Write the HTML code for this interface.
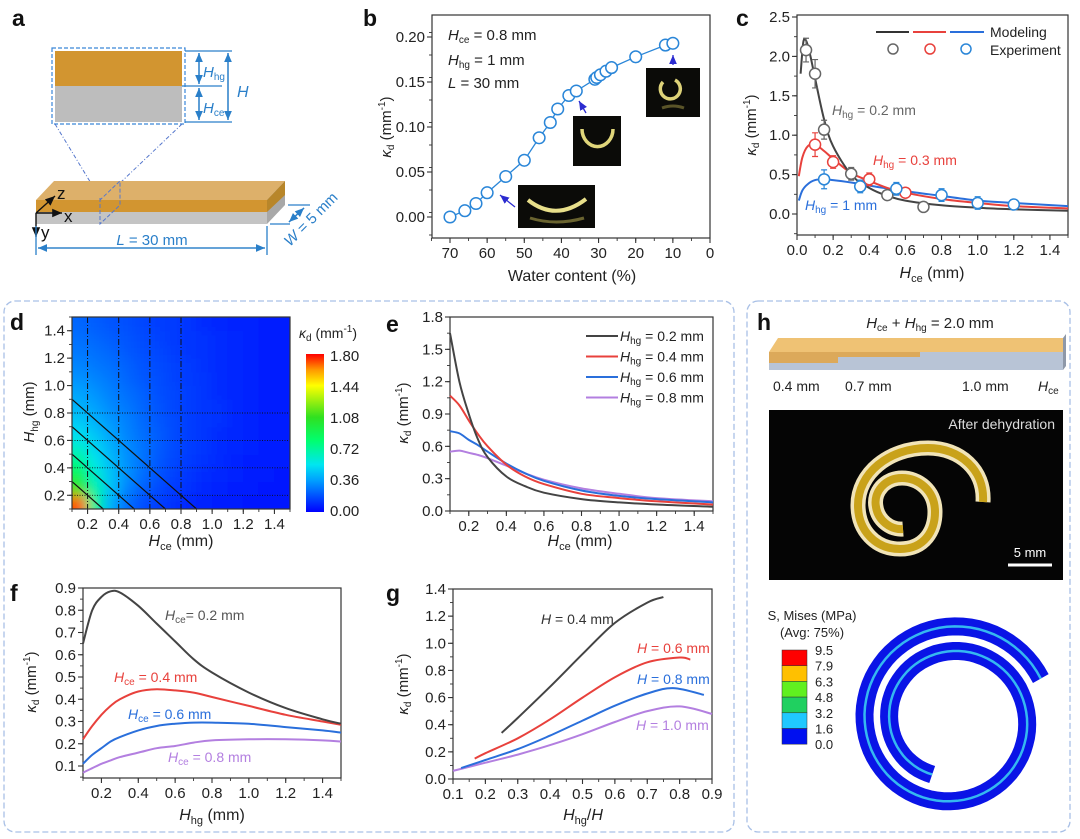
<!DOCTYPE html>
<html><head><meta charset="utf-8">
<style>
html,body{margin:0;padding:0;background:#fff;}
svg{display:block;font-family:"Liberation Sans",Arial,sans-serif;}
.tk{font-size:15px;fill:#222;}
.pl{font-size:23px;font-weight:bold;fill:#111;}
</style></head>
<body>
<svg id="fig" width="1080" height="839" viewBox="0 0 1080 839" xmlns="http://www.w3.org/2000/svg">
<defs>
 <filter id="hmblur" filterUnits="userSpaceOnUse" x="30" y="280" width="300" height="270"><feGaussianBlur stdDeviation="6"/></filter>
 <clipPath id="hmclip"><rect x="72" y="317" width="218" height="192"/></clipPath>
 <linearGradient id="cbgrad" x1="0" y1="1" x2="0" y2="0">
  <stop offset="0" stop-color="#0000ff"/><stop offset="0.2" stop-color="#00a0ff"/><stop offset="0.3" stop-color="#00e6f0"/>
  <stop offset="0.45" stop-color="#00ff70"/><stop offset="0.6" stop-color="#30e020"/><stop offset="0.8" stop-color="#ffff00"/>
  <stop offset="0.9" stop-color="#ff9900"/><stop offset="1" stop-color="#ff0000"/>
 </linearGradient>
 <marker id="ab" markerWidth="8" markerHeight="8" refX="7" refY="4" orient="auto"><path d="M0,1 L7,4 L0,7 z" fill="#2a7fc9"/></marker>
 <marker id="ak" markerWidth="8" markerHeight="8" refX="7" refY="4" orient="auto"><path d="M0,1 L7,4 L0,7 z" fill="#111"/></marker>
 <marker id="an" markerWidth="8" markerHeight="8" refX="7" refY="4" orient="auto"><path d="M0,1 L7,4 L0,7 z" fill="#2b2bd0"/></marker>
</defs>

<rect x="4" y="301" width="730" height="531" rx="11" fill="none" stroke="#a9c0e6" stroke-width="1.3" stroke-dasharray="6 3"/>
<rect x="747" y="301" width="323" height="531" rx="11" fill="none" stroke="#a9c0e6" stroke-width="1.3" stroke-dasharray="6 3"/>

<text class="pl" x="12" y="26">a</text>
<text class="pl" x="363" y="26">b</text>
<text class="pl" x="736" y="26">c</text>
<text class="pl" x="10" y="330">d</text>
<text class="pl" x="386" y="332">e</text>
<text class="pl" x="10" y="601">f</text>
<text class="pl" x="386" y="601">g</text>
<text class="pl" x="757" y="330">h</text>

<g>
 <rect x="52" y="48" width="133" height="76" fill="none" stroke="#3a86d8" stroke-dasharray="4 2" stroke-width="1.2"/>
 <rect x="55" y="51" width="127" height="35" fill="#d29530"/>
 <rect x="55" y="86" width="127" height="36" fill="#bdbdbd"/>
 <g stroke="#2a7fc9" stroke-width="1.3" fill="none">
  <line x1="185" y1="51" x2="232" y2="51"/><line x1="182" y1="86" x2="222" y2="86"/><line x1="185" y1="122" x2="232" y2="122"/>
  <line x1="199" y1="53" x2="199" y2="84" marker-end="url(#ab)"/><line x1="199" y1="84" x2="199" y2="53" marker-end="url(#ab)"/>
  <line x1="199" y1="88" x2="199" y2="120" marker-end="url(#ab)"/><line x1="199" y1="120" x2="199" y2="88" marker-end="url(#ab)"/>
  <line x1="228" y1="53" x2="228" y2="120" marker-end="url(#ab)"/><line x1="228" y1="120" x2="228" y2="53" marker-end="url(#ab)"/>
 </g>
 <text x="203" y="77" fill="#2a7fc9" font-size="15"><tspan font-style="italic">H</tspan><tspan font-size="10" dy="3">hg</tspan></text>
 <text x="203" y="113" fill="#2a7fc9" font-size="15"><tspan font-style="italic">H</tspan><tspan font-size="10" dy="3">ce</tspan></text>
 <text x="237" y="97" fill="#2a7fc9" font-size="16" font-style="italic">H</text>
 <g stroke="#5577cc" stroke-width="1" stroke-dasharray="4 2 1 2" fill="none">
  <line x1="55" y1="124" x2="100" y2="198"/><line x1="182" y1="124" x2="120" y2="183"/>
 </g>
 <polygon points="36,200 54,181 285,181 267,200" fill="#ddb06a"/>
 <polygon points="267,200 285,181 285,205 267,224" fill="#a8a8a8"/>
 <polygon points="267,200 285,181 285,195 267,212" fill="#b8862a"/>
 <rect x="36" y="200" width="231" height="12" fill="#d29530"/>
 <rect x="36" y="212" width="231" height="12" fill="#c4c4c4"/>
 <g stroke="#5577cc" stroke-width="1" stroke-dasharray="4 2" fill="none"><polyline points="100,198 100,224 120,205 120,181 100,200"/></g>
 <g stroke="#111" stroke-width="1.4" fill="none">
  <line x1="36" y1="213" x2="55" y2="196" marker-end="url(#ak)"/><line x1="36" y1="213" x2="62" y2="213" marker-end="url(#ak)"/><line x1="36" y1="213" x2="36" y2="237" marker-end="url(#ak)"/>
 </g>
 <text x="57" y="199" font-size="17" fill="#111">z</text><text x="64" y="222" font-size="17" fill="#111">x</text><text x="41" y="238" font-size="17" fill="#111">y</text>
 <g stroke="#2a7fc9" stroke-width="1.3" fill="none">
  <line x1="36" y1="226" x2="36" y2="255"/><line x1="267" y1="226" x2="267" y2="255"/>
  <line x1="38" y1="248" x2="265" y2="248" marker-end="url(#ab)"/><line x1="265" y1="248" x2="38" y2="248" marker-end="url(#ab)"/>
  <line x1="270" y1="224" x2="290" y2="224"/><line x1="288" y1="205" x2="310" y2="205"/>
  <line x1="289" y1="222" x2="304" y2="208" marker-end="url(#ab)"/><line x1="304" y1="208" x2="289" y2="222" marker-end="url(#ab)"/>
 </g>
 <text x="152" y="245" text-anchor="middle" font-size="15" fill="#2a7fc9"><tspan font-style="italic">L</tspan> = 30 mm</text>
 <text x="0" y="0" transform="translate(290,247) rotate(-45)" font-size="15" fill="#2a7fc9"><tspan font-style="italic">W</tspan> = 5 mm</text>
</g>

<g>
 <text x="0" y="0" transform="translate(391,127) rotate(-90)" text-anchor="middle" font-size="15" fill="#222"><tspan font-style="italic">κ</tspan><tspan font-size="10" dy="3">d</tspan><tspan dy="-3"> (mm</tspan><tspan font-size="10" dy="-6">-1</tspan><tspan dy="6">)</tspan></text>
 <text x="572" y="281" text-anchor="middle" font-size="16" fill="#222">Water content (%)</text>
 <text x="448" y="40" font-size="15" fill="#222"><tspan font-style="italic">H</tspan><tspan font-size="10" dy="3">ce</tspan><tspan dy="-3"> = 0.8 mm</tspan></text>
 <text x="448" y="65" font-size="15" fill="#222"><tspan font-style="italic">H</tspan><tspan font-size="10" dy="3">hg</tspan><tspan dy="-3"> = 1 mm</tspan></text>
 <text x="448" y="88" font-size="15" fill="#222"><tspan font-style="italic">L</tspan> = 30 mm</text>
 <rect x="518" y="185" width="77" height="43" fill="#0b0b08"/>
 <path d="M528,200 Q556,222 586,199" stroke="#e8df8a" stroke-width="4" fill="none"/>
 <path d="M530,218 Q556,226 584,218" stroke="#6a6430" stroke-width="3" fill="none"/>
 <rect x="573" y="116" width="48" height="50" fill="#0b0b08"/>
 <path d="M582,129 A15,17 0 0 0 613,129" stroke="#e0d67a" stroke-width="3.5" fill="none"/>
 <rect x="646" y="68" width="54" height="49" fill="#0b0b08"/>
 <path d="M663,82 A10,10 0 1 0 675,80" stroke="#ddd278" stroke-width="3.5" fill="none"/>
 <path d="M662,108 Q673,104 684,108" stroke="#5a5428" stroke-width="3" fill="none"/>
 <line x1="515" y1="207" x2="500" y2="195" stroke="#2b2bd0" stroke-width="1.3" marker-end="url(#an)"/>
 <line x1="586" y1="113" x2="579" y2="101" stroke="#2b2bd0" stroke-width="1.3" marker-end="url(#an)"/>
 <line x1="673" y1="65" x2="673" y2="55" stroke="#2b2bd0" stroke-width="1.3" marker-end="url(#an)"/>
</g>

<g>
 <text x="0" y="0" transform="translate(756,125) rotate(-90)" text-anchor="middle" font-size="15" fill="#222"><tspan font-style="italic">κ</tspan><tspan font-size="10" dy="3">d</tspan><tspan dy="-3"> (mm</tspan><tspan font-size="10" dy="-6">-1</tspan><tspan dy="6">)</tspan></text>
 <text x="932" y="278" text-anchor="middle" font-size="16" fill="#222"><tspan font-style="italic">H</tspan><tspan font-size="11" dy="4">ce</tspan><tspan dy="-4"> (mm)</tspan></text>
 <line x1="876" y1="32" x2="909" y2="32" stroke="#333" stroke-width="2"/>
 <line x1="913" y1="32" x2="946" y2="32" stroke="#e8413c" stroke-width="2"/>
 <line x1="950" y1="32" x2="984" y2="32" stroke="#2a6fdb" stroke-width="2"/>
 <circle cx="893" cy="49" r="5" fill="#fff" stroke="#666" stroke-width="1.5"/>
 <circle cx="930" cy="49" r="5" fill="#fff" stroke="#e8413c" stroke-width="1.5"/>
 <circle cx="966" cy="49" r="5" fill="#fff" stroke="#2a86d8" stroke-width="1.5"/>
 <text x="990" y="37" font-size="14" fill="#222">Modeling</text>
 <text x="990" y="55" font-size="14" fill="#222">Experiment</text>
 <text x="832" y="115" font-size="14" fill="#666"><tspan font-style="italic">H</tspan><tspan font-size="10" dy="3">hg</tspan><tspan dy="-3"> = 0.2 mm</tspan></text>
 <text x="873" y="165" font-size="14" fill="#e8413c"><tspan font-style="italic">H</tspan><tspan font-size="10" dy="3">hg</tspan><tspan dy="-3"> = 0.3 mm</tspan></text>
 <text x="805" y="210" font-size="14" fill="#2a6fdb"><tspan font-style="italic">H</tspan><tspan font-size="10" dy="3">hg</tspan><tspan dy="-3"> = 1 mm</tspan></text>
</g>

<g>
 <g id="hmcells" clip-path="url(#hmclip)"><g id="hmblurg" filter="url(#hmblur)"></g></g>
 <text x="0" y="0" transform="translate(34,412) rotate(-90)" text-anchor="middle" font-size="15" fill="#222"><tspan font-style="italic">H</tspan><tspan font-size="10" dy="4">hg</tspan><tspan dy="-4"> (mm)</tspan></text>
 <text x="181" y="546" text-anchor="middle" font-size="16" fill="#222"><tspan font-style="italic">H</tspan><tspan font-size="11" dy="4">ce</tspan><tspan dy="-4"> (mm)</tspan></text>
 <rect x="306" y="354" width="18" height="158" fill="url(#cbgrad)"/>
 <text x="299" y="338" font-size="14" fill="#222"><tspan font-style="italic">κ</tspan><tspan font-size="10" dy="3">d</tspan><tspan dy="-3"> (mm</tspan><tspan font-size="10" dy="-6">-1</tspan><tspan dy="6">)</tspan></text>
 <g id="cbticks"></g>
</g>

<g>
 <text x="0" y="0" transform="translate(408,413) rotate(-90)" text-anchor="middle" font-size="15" fill="#222"><tspan font-style="italic">κ</tspan><tspan font-size="10" dy="3">d</tspan><tspan dy="-3"> (mm</tspan><tspan font-size="10" dy="-6">-1</tspan><tspan dy="6">)</tspan></text>
 <text x="580" y="546" text-anchor="middle" font-size="16" fill="#222"><tspan font-style="italic">H</tspan><tspan font-size="11" dy="4">ce</tspan><tspan dy="-4"> (mm)</tspan></text>
</g>

<g>
 <text x="0" y="0" transform="translate(36,682) rotate(-90)" text-anchor="middle" font-size="15" fill="#222"><tspan font-style="italic">κ</tspan><tspan font-size="10" dy="3">d</tspan><tspan dy="-3"> (mm</tspan><tspan font-size="10" dy="-6">-1</tspan><tspan dy="6">)</tspan></text>
 <text x="212" y="820" text-anchor="middle" font-size="16" fill="#222"><tspan font-style="italic">H</tspan><tspan font-size="11" dy="4">hg</tspan><tspan dy="-4"> (mm)</tspan></text>
 <text x="165" y="620" font-size="14" fill="#555"><tspan font-style="italic">H</tspan><tspan font-size="10" dy="3">ce</tspan><tspan dy="-3">= 0.2 mm</tspan></text>
 <text x="114" y="682" font-size="14" fill="#e8413c"><tspan font-style="italic">H</tspan><tspan font-size="10" dy="3">ce</tspan><tspan dy="-3"> = 0.4 mm</tspan></text>
 <text x="128" y="719" font-size="14" fill="#2a6fdb"><tspan font-style="italic">H</tspan><tspan font-size="10" dy="3">ce</tspan><tspan dy="-3"> = 0.6 mm</tspan></text>
 <text x="168" y="762" font-size="14" fill="#b37fe0"><tspan font-style="italic">H</tspan><tspan font-size="10" dy="3">ce</tspan><tspan dy="-3"> = 0.8 mm</tspan></text>
</g>

<g>
 <text x="0" y="0" transform="translate(408,684) rotate(-90)" text-anchor="middle" font-size="15" fill="#222"><tspan font-style="italic">κ</tspan><tspan font-size="10" dy="3">d</tspan><tspan dy="-3"> (mm</tspan><tspan font-size="10" dy="-6">-1</tspan><tspan dy="6">)</tspan></text>
 <text x="583" y="820" text-anchor="middle" font-size="16" fill="#222"><tspan font-style="italic">H</tspan><tspan font-size="11" dy="4">hg</tspan><tspan dy="-4">/</tspan><tspan font-style="italic">H</tspan></text>
 <text x="541" y="624" font-size="14" fill="#333"><tspan font-style="italic">H</tspan> = 0.4 mm</text>
 <text x="637" y="653" font-size="14" fill="#e8413c"><tspan font-style="italic">H</tspan> = 0.6 mm</text>
 <text x="637" y="684" font-size="14" fill="#2a6fdb"><tspan font-style="italic">H</tspan> = 0.8 mm</text>
 <text x="636" y="730" font-size="14" fill="#b37fe0"><tspan font-style="italic">H</tspan> = 1.0 mm</text>
</g>

<g>
 <text x="930" y="328" text-anchor="middle" font-size="15" fill="#222"><tspan font-style="italic">H</tspan><tspan font-size="10" dy="3">ce</tspan><tspan dy="-3"> + </tspan><tspan font-style="italic">H</tspan><tspan font-size="10" dy="3">hg</tspan><tspan dy="-3"> = 2.0 mm</tspan></text>
 <polygon points="769,352 778,338 1063,338 1063,352" fill="#efc274"/>
 <polygon points="769,352 1063,352 1063,370 769,370" fill="#b8c4d6"/>
 <polygon points="769,352 838,352 838,363 769,363" fill="#dca95a"/>
 <polygon points="838,352 920,352 920,357 838,357" fill="#dca95a"/>
 <polygon points="1063,338 1066,334 1066,366 1063,370" fill="#8e98a8"/>
 <text x="773" y="391" font-size="14" fill="#222">0.4 mm</text>
 <text x="845" y="391" font-size="14" fill="#222">0.7 mm</text>
 <text x="962" y="391" font-size="14" fill="#222">1.0 mm</text>
 <text x="1038" y="391" font-size="14" fill="#222"><tspan font-style="italic">H</tspan><tspan font-size="10" dy="3">ce</tspan></text>
 <rect x="769" y="410" width="294" height="170" fill="#050505"/>
 <text x="1055" y="429" text-anchor="end" font-size="14" fill="#ddd">After dehydration</text>
 <path d="M983,502 C985,470 960,448 928,448 C888,448 858,474 858,505 C858,530 875,549 900,549 C925,549 935,530 935,512 C935,490 918,478 902,478 C885,478 873,492 876,507 C878,520 890,530 903,529" fill="none" stroke="#f1e4b8" stroke-width="15" stroke-linecap="butt"/>
 <path d="M983,502 C985,470 960,448 928,448 C888,448 858,474 858,505 C858,530 875,549 900,549 C925,549 935,530 935,512 C935,490 918,478 902,478 C885,478 873,492 876,507 C878,520 890,530 903,529" fill="none" stroke="#c9a21a" stroke-width="8"/>
 <line x1="1008" y1="565" x2="1052" y2="565" stroke="#fff" stroke-width="3"/>
 <text x="1030" y="557" text-anchor="middle" font-size="13" fill="#fff">5 mm</text>
 <text x="812" y="620" text-anchor="middle" font-size="13" fill="#222">S, Mises (MPa)</text>
 <text x="812" y="637" text-anchor="middle" font-size="13" fill="#222">(Avg: 75%)</text>
 <g id="legh"></g>
 <path id="spiral" fill="none" stroke="#0a14e6" stroke-width="18"/>
 <path id="spiral2" fill="none" stroke="#35b8f0" stroke-width="2.5"/>
</g>

<g id="charts"></g>
</svg>

<script>
// ===== DATA =====
const bWater = [70,66,63,60,55,50,46,43,41,38,36,31,30.5,29.5,28,26.5,20,12,10];
const bKappa = [0,0.007,0.015,0.027,0.045,0.063,0.088,0.105,0.12,0.135,0.14,0.153,0.155,0.158,0.162,0.166,0.178,0.191,0.193];
const bXTicks = [70,60,50,40,30,20,10,0];
const bYTicks = [0,0.05,0.1,0.15,0.2];
const bYLabels = ["0.00","0.05","0.10","0.15","0.20"];
const cModelX1 = [0.02,0.035,0.05,0.07,0.1,0.15,0.2,0.3,0.4,0.5,0.6,0.8,1.0,1.2,1.5];
const cModelY1 = [1.78,2.18,2.2,2.05,1.72,1.2,0.86,0.5,0.33,0.23,0.17,0.11,0.08,0.06,0.04];
const cModelX2 = [0.01,0.03,0.06,0.1,0.15,0.2,0.3,0.4,0.5,0.6,0.8,1.0,1.2,1.5];
const cModelY2 = [0.48,0.72,0.86,0.88,0.8,0.7,0.52,0.42,0.33,0.27,0.19,0.14,0.1,0.07];
const cModelX3 = [0.01,0.03,0.06,0.1,0.15,0.2,0.3,0.4,0.6,0.8,1.0,1.2,1.5];
const cModelY3 = [0.17,0.3,0.38,0.43,0.44,0.43,0.4,0.36,0.29,0.23,0.17,0.14,0.1];
const cExpX1 = [0.05,0.1,0.15,0.3,0.5,0.7];
const cExpY1 = [2.08,1.78,1.07,0.51,0.24,0.09];
const cErr1 = [0.15,0.18,0.12,0.08,0.03,0.05];
const cExpX2 = [0.1,0.2,0.4,0.6];
const cExpY2 = [0.88,0.66,0.44,0.27];
const cErr2 = [0.15,0.08,0.08,0.05];
const cExpX3 = [0.15,0.35,0.55,0.8,1.0,1.2];
const cExpY3 = [0.44,0.35,0.32,0.24,0.14,0.12];
const cErr3 = [0.12,0.08,0.08,0.08,0.08,0.04];
const cXTicks = [0,0.2,0.4,0.6,0.8,1.0,1.2,1.4];
const cYTicks = [0,0.5,1.0,1.5,2.0,2.5];
const dHce = [0.15,0.25,0.35,0.45,0.55,0.65,0.75,0.85,0.95,1.05,1.15,1.25,1.35,1.45];
const dHhg = [0.15,0.25,0.35,0.45,0.55,0.65,0.75,0.85,0.95,1.05,1.15,1.25,1.35,1.45];
const dKappa = [
 [1.7,0.75,0.4,0.25,0.18,0.14,0.11,0.09,0.08,0.07,0.06,0.05,0.05,0.04],
 [1.1,0.7,0.45,0.3,0.22,0.17,0.13,0.11,0.09,0.08,0.07,0.06,0.05,0.05],
 [0.9,0.62,0.45,0.33,0.25,0.19,0.15,0.12,0.1,0.09,0.08,0.07,0.06,0.05],
 [0.75,0.55,0.43,0.33,0.26,0.2,0.16,0.13,0.11,0.1,0.08,0.07,0.06,0.06],
 [0.62,0.5,0.4,0.32,0.26,0.21,0.17,0.14,0.12,0.1,0.09,0.08,0.07,0.06],
 [0.52,0.45,0.37,0.3,0.25,0.21,0.17,0.14,0.12,0.1,0.09,0.08,0.07,0.06],
 [0.46,0.4,0.34,0.29,0.24,0.2,0.17,0.14,0.12,0.11,0.09,0.08,0.07,0.06],
 [0.41,0.36,0.31,0.27,0.23,0.19,0.16,0.14,0.12,0.11,0.09,0.08,0.07,0.06],
 [0.37,0.33,0.29,0.25,0.22,0.18,0.16,0.14,0.12,0.1,0.09,0.08,0.07,0.06],
 [0.33,0.3,0.27,0.23,0.2,0.18,0.15,0.13,0.12,0.1,0.09,0.08,0.07,0.06],
 [0.3,0.27,0.25,0.22,0.19,0.17,0.15,0.13,0.11,0.1,0.09,0.08,0.07,0.06],
 [0.27,0.25,0.23,0.2,0.18,0.16,0.14,0.12,0.11,0.1,0.09,0.08,0.07,0.06],
 [0.25,0.23,0.21,0.19,0.17,0.15,0.13,0.12,0.11,0.1,0.09,0.08,0.07,0.06],
 [0.23,0.21,0.19,0.18,0.16,0.14,0.13,0.12,0.1,0.09,0.08,0.08,0.07,0.06]
];
const dGridVals = [0.2,0.4,0.6,0.8];
const dDiagSums = [0.4,0.6,0.8,1.0];
const dTicks = [0.2,0.4,0.6,0.8,1.0,1.2,1.4];
const dCbTicks = [0,0.36,0.72,1.08,1.44,1.8];
const dCbLabels = ["0.00","0.36","0.72","1.08","1.44","1.80"];
const eX = [0.1,0.15,0.2,0.25,0.3,0.4,0.5,0.6,0.8,1.0,1.2,1.5];
const eY02 = [1.65,1.2,0.9,0.66,0.5,0.32,0.23,0.17,0.11,0.08,0.06,0.04];
const eY04 = [1.07,0.98,0.84,0.71,0.6,0.43,0.32,0.25,0.16,0.12,0.09,0.06];
const eY06 = [0.74,0.72,0.66,0.61,0.55,0.44,0.35,0.28,0.19,0.14,0.11,0.08];
const eY08 = [0.55,0.56,0.54,0.52,0.49,0.42,0.35,0.29,0.21,0.16,0.12,0.09];
const eLegend = ["0.2","0.4","0.6","0.8"];
const eYTicks = [0,0.3,0.6,0.9,1.2,1.5,1.8];
const fX = [0.1,0.15,0.2,0.25,0.3,0.4,0.5,0.6,0.7,0.8,1.0,1.2,1.4,1.5];
const fY02 = [0.65,0.8,0.86,0.885,0.88,0.82,0.74,0.66,0.58,0.52,0.43,0.36,0.31,0.29];
const fY04 = [0.22,0.28,0.33,0.37,0.4,0.435,0.445,0.44,0.43,0.41,0.37,0.33,0.3,0.285];
const fY06 = [0.11,0.15,0.18,0.21,0.23,0.26,0.28,0.29,0.295,0.295,0.29,0.275,0.26,0.25];
const fY08 = [0.07,0.09,0.11,0.125,0.14,0.16,0.18,0.19,0.205,0.215,0.22,0.22,0.215,0.21];
const fYTicks = [0.1,0.2,0.3,0.4,0.5,0.6,0.7,0.8,0.9];
const gX04 = [0.25,0.3,0.4,0.5,0.6,0.7,0.75];
const gY04 = [0.34,0.45,0.68,0.92,1.15,1.3,1.34];
const gX06 = [0.167,0.2,0.3,0.4,0.5,0.6,0.7,0.8,0.833];
const gY06 = [0.15,0.19,0.3,0.44,0.6,0.75,0.86,0.895,0.88];
const gX08 = [0.125,0.2,0.3,0.4,0.5,0.6,0.7,0.78,0.875];
const gY08 = [0.08,0.14,0.22,0.32,0.43,0.54,0.63,0.67,0.62];
const gX10 = [0.1,0.2,0.3,0.4,0.5,0.6,0.7,0.8,0.9];
const gY10 = [0.06,0.12,0.18,0.25,0.33,0.42,0.5,0.535,0.48];
const gXTicks = [0.1,0.2,0.3,0.4,0.5,0.6,0.7,0.8,0.9];
const gYTicks = [0,0.2,0.4,0.6,0.8,1.0,1.2,1.4];
const hLevels = ["9.5","7.9","6.3","4.8","3.2","1.6","0.0"];
const hColors = ["#ff0000","#ffc000","#60f020","#20d060","#20c8ff","#0010f0"];

// ===== HELPERS =====
const NS = "http://www.w3.org/2000/svg";
const root = document.getElementById("charts");
function mk(tag, attrs, parent){const e=document.createElementNS(NS,tag);for(const k in attrs)e.setAttribute(k,attrs[k]);(parent||root).appendChild(e);return e;}
function lin(v1,p1,v2,p2){return v=>p1+(v-v1)*(p2-p1)/(v2-v1);}
function fmt(v,d){return v.toFixed(d);}
function smooth(pts){
  if(pts.length<2)return "";
  let d="M"+pts[0][0].toFixed(1)+","+pts[0][1].toFixed(1);
  for(let i=0;i<pts.length-1;i++){
    const p0=pts[i-1]||pts[i],p1=pts[i],p2=pts[i+1],p3=pts[i+2]||p2;
    const c1=[p1[0]+(p2[0]-p0[0])/6,p1[1]+(p2[1]-p0[1])/6];
    const c2=[p2[0]-(p3[0]-p1[0])/6,p2[1]-(p3[1]-p1[1])/6];
    d+=" C"+c1[0].toFixed(1)+","+c1[1].toFixed(1)+" "+c2[0].toFixed(1)+","+c2[1].toFixed(1)+" "+p2[0].toFixed(1)+","+p2[1].toFixed(1);
  }
  return d;
}
function frame(L,T,R,B,name){
  const r=mk("rect",{x:L,y:T,width:R-L,height:B-T,fill:"none",stroke:"#333","stroke-width":1.2});
  
  
}
function xAxis(sx,B,ticks,labels,minorStep,lo,hi,name){
  const g=mk("g",{});
  
  
  ticks.forEach((t,i)=>{
    const x=sx(t);
    mk("line",{x1:x,y1:B,x2:x,y2:B+5,stroke:"#333","stroke-width":1.1},g);
    const tx=mk("text",{x:x,y:B+20,"text-anchor":"middle",class:"tk"},g);
    tx.textContent=labels[i];
  });
  if(minorStep){for(let v=lo;v<=hi+1e-9;v+=minorStep){const x=sx(v);mk("line",{x1:x,y1:B,x2:x,y2:B+3,stroke:"#333","stroke-width":0.9},g);}}
}
function yAxis(sy,L,ticks,labels,minorStep,lo,hi,name){
  const g=mk("g",{});
  
  
  ticks.forEach((t,i)=>{
    const y=sy(t);
    mk("line",{x1:L-5,y1:y,x2:L,y2:y,stroke:"#333","stroke-width":1.1},g);
    const tx=mk("text",{x:L-7,y:y+5,"text-anchor":"end",class:"tk"},g);
    tx.textContent=labels[i];
  });
  if(minorStep){for(let v=lo;v<=hi+1e-9;v+=minorStep){const y=sy(v);mk("line",{x1:L-3,y1:y,x2:L,y2:y,stroke:"#333","stroke-width":0.9},g);}}
}
function curve(xs,ys,sx,sy,color,w,name){
  const p=mk("path",{d:smooth(xs.map((x,i)=>[sx(x),sy(ys[i])])),fill:"none",stroke:color,"stroke-width":w});
  
  
  return p;
}

// ===== PANEL B =====
{
  const sx=lin(70,450,0,710), sy=lin(0,217,0.2,37);
  frame(432,15,710,238,"panel-b-frame");
  xAxis(sx,238,bXTicks,bXTicks.map(String),5,0,75,"panel-b-x-axis");
  yAxis(sy,432,bYTicks,bYLabels,0.025,-0.02,0.22,"panel-b-y-axis");
  const pl=mk("polyline",{points:bWater.map((w,i)=>sx(w)+","+sy(bKappa[i])).join(" "),fill:"none",stroke:"#2a86d8","stroke-width":1.3});
  
  
  bWater.forEach((w,i)=>{
    const c=mk("circle",{cx:sx(w),cy:sy(bKappa[i]),r:5.8,fill:"#fff",stroke:"#2a86d8","stroke-width":1.5});
    
    
  });
}
// ===== PANEL C =====
{
  const sx=lin(0,797,1.5,1068), sy=lin(0,214,2.5,17);
  frame(797,15,1068,235,"panel-c-frame");
  xAxis(sx,235,cXTicks,cXTicks.map(v=>fmt(v,1)),0.1,0,1.5,"panel-c-x-axis");
  yAxis(sy,797,cYTicks,cYTicks.map(v=>fmt(v,1)),0.25,-0.25,2.5,"panel-c-y-axis");
  curve(cModelX3,cModelY3,sx,sy,"#2a6fdb",2,"model-curve-hhg-1");
  curve(cModelX2,cModelY2,sx,sy,"#e8413c",2,"model-curve-hhg-0.3");
  curve(cModelX1,cModelY1,sx,sy,"#444",2,"model-curve-hhg-0.2");
  [[cExpX1,cExpY1,cErr1,"#666","exp-hhg-0.2"],[cExpX2,cExpY2,cErr2,"#e8413c","exp-hhg-0.3"],[cExpX3,cExpY3,cErr3,"#2a86d8","exp-hhg-1"]].forEach(s=>{
    s[0].forEach((x,i)=>{
      const X=sx(x),Y=sy(s[1][i]),e=s[2][i]*78.8;
      const eb=mk("path",{d:`M${X},${Y-e}V${Y+e}M${X-3},${Y-e}H${X+3}M${X-3},${Y+e}H${X+3}`,stroke:s[3],"stroke-width":1.2,fill:"none"});
      
      
      const c=mk("circle",{cx:X,cy:Y,r:5.5,fill:"#fff",stroke:s[3],"stroke-width":1.5});
      
      
    });
  });
}
// ===== PANEL D =====
function cmap(v){
  const st=[[0,[0,0,255]],[0.2,[0,160,255]],[0.3,[0,230,240]],[0.45,[0,255,112]],[0.6,[48,224,32]],[0.8,[255,255,0]],[0.9,[255,153,0]],[1,[255,0,0]]];
  const t=Math.max(0,Math.min(1,v/1.8));
  for(let i=0;i<st.length-1;i++){if(t<=st[i+1][0]){const f=(t-st[i][0])/(st[i+1][0]-st[i][0]);const a=st[i][1],b=st[i+1][1];return `rgb(${Math.round(a[0]+f*(b[0]-a[0]))},${Math.round(a[1]+f*(b[1]-a[1]))},${Math.round(a[2]+f*(b[2]-a[2]))})`;}}
  return "rgb(255,0,0)";
}
{
  const sx=lin(0.1,72,1.5,290), sy=lin(0.1,509,1.5,317);
  const hg=document.getElementById("hmblurg");
  const cw=sx(0.2)-sx(0.1), ch=sy(0.1)-sy(0.2), pad=22;
  const nI=dHce.length, nJ=dHhg.length;
  dHhg.forEach((yv,j)=>dHce.forEach((xv,i)=>{
    let x0=sx(xv)-cw/2-0.5, x1=sx(xv)+cw/2+0.5, y0=sy(yv)-ch/2-0.5, y1=sy(yv)+ch/2+0.5;
    if(i===0)x0-=pad; if(i===nI-1)x1+=pad; if(j===0)y1+=pad; if(j===nJ-1)y0-=pad;
    const r=mk("rect",{x:x0,y:y0,width:x1-x0,height:y1-y0,fill:cmap(dKappa[j][i])},hg);
    
    
  }));
  dGridVals.forEach(v=>{
    const vl=mk("line",{x1:sx(v),y1:317,x2:sx(v),y2:509,stroke:"#111","stroke-width":1,"stroke-dasharray":"6 2 1 2"});
    
    
    const hl=mk("line",{x1:72,y1:sy(v),x2:290,y2:sy(v),stroke:"#111","stroke-width":0.9,"stroke-dasharray":"1 1.5"});
    
    
  });
  dDiagSums.forEach(s=>{
    const dl=mk("line",{x1:sx(0.1),y1:sy(s-0.1),x2:sx(s-0.1),y2:sy(0.1),stroke:"#111","stroke-width":1.2});
    
    
  });
  frame(72,317,290,509,"panel-d-frame");
  xAxis(sx,509,dTicks,dTicks.map(v=>fmt(v,1)),0.1,0.1,1.5,"panel-d-x-axis");
  yAxis(sy,72,dTicks,dTicks.map(v=>fmt(v,1)),0.1,0.1,1.5,"panel-d-y-axis");
  const cb=document.getElementById("cbticks");
  const sc=lin(0,511,1.8,356);
  dCbTicks.forEach((t,i)=>{
    const tx=mk("text",{x:330,y:sc(t)+5,class:"tk"},cb);
    tx.textContent=dCbLabels[i];
    
    
  });
}
// ===== PANEL E =====
{
  const sx=lin(0.1,450,1.5,713), sy=lin(0,511,1.8,317);
  frame(450,317,713,511,"panel-e-frame");
  xAxis(sx,511,dTicks,dTicks.map(v=>fmt(v,1)),0.1,0.1,1.5,"panel-e-x-axis");
  yAxis(sy,450,eYTicks,eYTicks.map(v=>fmt(v,1)),0.15,0,1.8,"panel-e-y-axis");
  const cols=["#b37fe0","#2a6fdb","#e8413c","#444"];
  [eY08,eY06,eY04,eY02].forEach((ys,i)=>curve(eX,ys,sx,sy,cols[i],2,"panel-e-curve-"+["0.8","0.6","0.4","0.2"][i]));
  const lc=["#444","#e8413c","#2a6fdb","#b37fe0"];
  eLegend.forEach((l,i)=>{
    const y=336+i*20.5;
    const ln=mk("line",{x1:586,y1:y,x2:618,y2:y,stroke:lc[i],"stroke-width":2});
    
    
    const t=mk("text",{x:620,y:y+5,"font-size":14,fill:"#222"});
    t.innerHTML=`<tspan font-style="italic">H</tspan><tspan font-size="10" dy="3">hg</tspan><tspan dy="-3"> = ${l} mm</tspan>`;
    
    
  });
}
// ===== PANEL F =====
{
  const sx=lin(0.1,83,1.5,341), sy=lin(0.1,766,0.9,588);
  frame(83,588,341,778,"panel-f-frame");
  xAxis(sx,778,dTicks,dTicks.map(v=>fmt(v,1)),0.1,0.1,1.5,"panel-f-x-axis");
  yAxis(sy,83,fYTicks,fYTicks.map(v=>fmt(v,1)),0.05,0.05,0.9,"panel-f-y-axis");
  curve(fX,fY08,sx,sy,"#b37fe0",2,"panel-f-curve-0.8");
  curve(fX,fY06,sx,sy,"#2a6fdb",2,"panel-f-curve-0.6");
  curve(fX,fY04,sx,sy,"#e8413c",2,"panel-f-curve-0.4");
  curve(fX,fY02,sx,sy,"#444",2,"panel-f-curve-0.2");
}
// ===== PANEL G =====
{
  const sx=lin(0.1,453,0.9,712), sy=lin(0,779,1.4,589);
  frame(453,589,712,779,"panel-g-frame");
  xAxis(sx,779,gXTicks,gXTicks.map(v=>fmt(v,1)),0.05,0.1,0.9,"panel-g-x-axis");
  yAxis(sy,453,gYTicks,gYTicks.map(v=>fmt(v,1)),0.1,0,1.4,"panel-g-y-axis");
  curve(gX10,gY10,sx,sy,"#b37fe0",2,"panel-g-curve-1.0");
  curve(gX08,gY08,sx,sy,"#2a6fdb",2,"panel-g-curve-0.8");
  curve(gX06,gY06,sx,sy,"#e8413c",2,"panel-g-curve-0.6");
  curve(gX04,gY04,sx,sy,"#444",2,"panel-g-curve-0.4");
}
// ===== PANEL H =====
{
  const g=document.getElementById("legh");
  hColors.forEach((c,i)=>{
    const r=mk("rect",{x:782,y:650+i*15.7,width:25,height:15.7,fill:c,stroke:"#333","stroke-width":0.5},g);
    
    
  });
  hLevels.forEach((l,i)=>{
    const t=mk("text",{x:815,y:655+i*15.7,"font-size":13,fill:"#222"},g);
    t.textContent=l;
    
    
  });
  let d="";
  const cx=952,cy=720,a0=-25,a1=-610,n=120;
  for(let k=0;k<=n;k++){
    const a=a0+(a1-a0)*k/n, r=98-(98-58)*k/n, rad=a*Math.PI/180;
    d+=(k?"L":"M")+(cx+r*Math.cos(rad)).toFixed(1)+","+(cy+r*Math.sin(rad)).toFixed(1);
  }
  document.getElementById("spiral").setAttribute("d",d);
  document.getElementById("spiral2").setAttribute("d",d);
}
</script>
</body></html>
